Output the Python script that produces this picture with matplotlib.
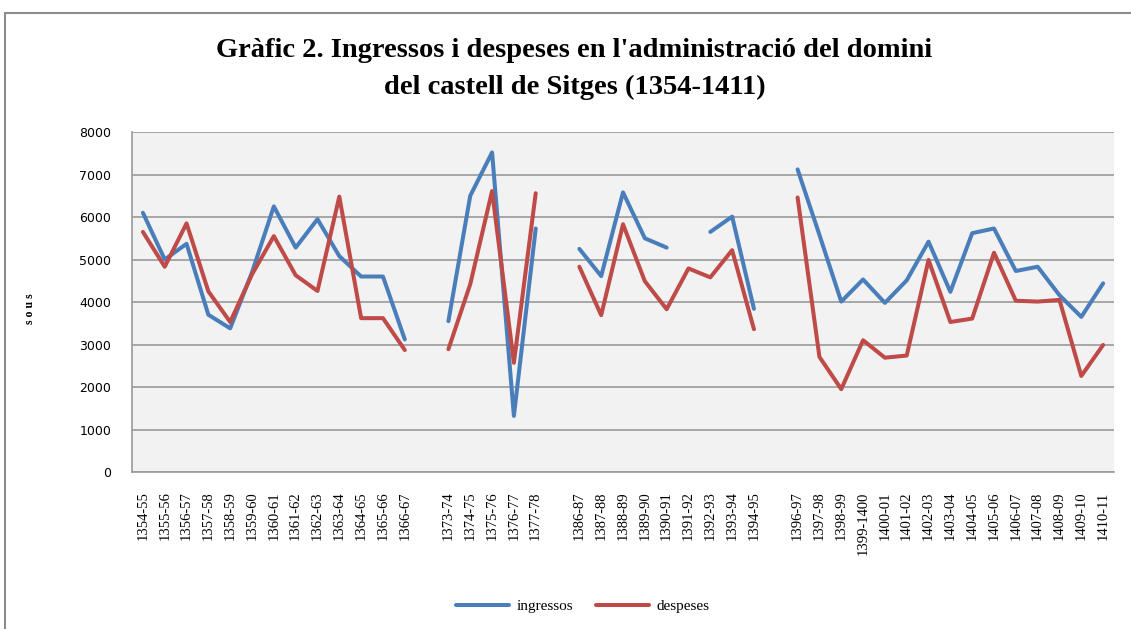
import numpy as np
import matplotlib.pyplot as plt
from matplotlib.patches import Rectangle

nan = np.nan

periods = ["1354-55", "1355-56", "1356-57", "1357-58", "1358-59", "1359-60",
           "1360-61", "1361-62", "1362-63", "1363-64", "1364-65", "1365-66",
           "1366-67", "",
           "1373-74", "1374-75", "1375-76", "1376-77", "1377-78", "",
           "1386-87", "1387-88", "1388-89", "1389-90", "1390-91", "1391-92",
           "1392-93", "1393-94", "1394-95", "",
           "1396-97", "1397-98", "1398-99", "1399-1400", "1400-01", "1401-02",
           "1402-03", "1403-04", "1404-05", "1405-06", "1406-07", "1407-08",
           "1408-09", "1409-10", "1410-11"]

ingressos = [6100, 5000, 5370, 3700, 3380, 4700, 6250, 5280, 5950, 5080, 4600, 4600, 3120, nan,
             3550, 6500, 7520, 1320, 5730, nan,
             5250, 4610, 6580, 5500, 5280, nan, 5650, 6010, 3840, nan,
             7120, 5580, 4010, 4530, 3980, 4510, 5420, 4240, 5620, 5730, 4730, 4830, 4160, 3650, 4440]

despeses = [5650, 4830, 5850, 4250, 3530, 4650, 5550, 4630, 4260, 6480, 3620, 3620, 2870, nan,
            2890, 4420, 6610, 2570, 6560, nan,
            4830, 3690, 5830, 4490, 3830, 4790, 4580, 5220, 3360, nan,
            6460, 2710, 1950, 3100, 2690, 2740, 4990, 3530, 3610, 5160, 4030, 4010, 4050, 2260, 2990]

fig = plt.figure(figsize=(11.31, 6.29), dpi=100)
ax = fig.add_axes([0.1167, 0.2496, 0.8683, 0.5405])

x = np.arange(len(periods))
ax.plot(x, ingressos, color="#4A7EBB", lw=2.9, label="ingressos", solid_capstyle="round")
ax.plot(x, despeses, color="#BE4B48", lw=2.9, label="despeses", solid_capstyle="round")

ax.set_facecolor("#F2F2F2")
ax.set_xlim(-0.5, len(periods) - 0.5)
ax.set_ylim(0, 8000)
ax.set_yticks(np.arange(0, 8001, 1000))
ax.yaxis.grid(True, color="#9A9A9A", lw=1.2)
ax.set_axisbelow(True)
ax.set_xticks(x)
ax.set_xticklabels(periods, rotation=90, fontsize=10.5, family="Liberation Serif")
ax.tick_params(axis="x", length=0, pad=14)
ax.tick_params(axis="y", length=0, pad=15, labelsize=9)
for side in ["top", "right"]:
    ax.spines[side].set_visible(False)
for side in ["left", "bottom"]:
    ax.spines[side].set_color("#9A9A9A")
    ax.spines[side].set_linewidth(1.2)

fig.text(0.0265, 0.51, "s o u s", rotation=90, fontsize=8.5, fontweight="bold",
         family="Liberation Serif", ha="center", va="center")

fig.text(0.508, 0.92, "Gràfic 2. Ingressos i despeses en l'administració del domini",
         fontsize=20.5, fontweight="bold", family="Liberation Serif", ha="center", va="center")
fig.text(0.508, 0.861, "del castell de Sitges (1354-1411)",
         fontsize=20.5, fontweight="bold", family="Liberation Serif", ha="center", va="center")

fig.legend(loc="center", bbox_to_anchor=(0.515, 0.036), ncol=2, frameon=False,
           prop={"family": "Liberation Serif", "size": 11}, handlelength=3.5,
           columnspacing=1.5, handletextpad=0.45)

fig.patches.append(Rectangle((0.004, -0.05), 1.2, 1.03, transform=fig.transFigure,
                             fill=False, edgecolor="#8C8C8C", lw=1.5))

fig.savefig("out.png", dpi=100)
